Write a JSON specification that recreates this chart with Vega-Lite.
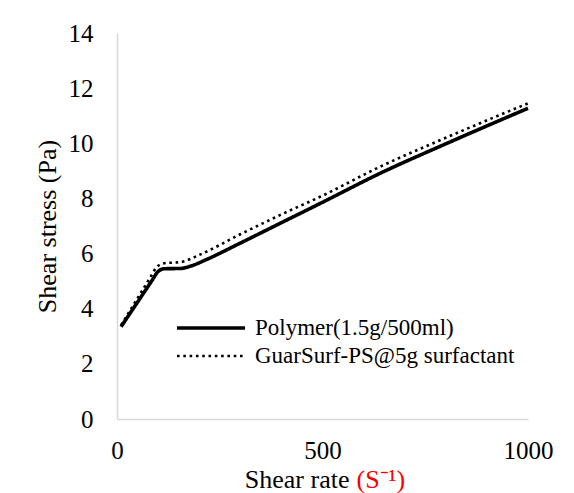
{
  "$schema": "https://vega.github.io/schema/vega-lite/v6.json",
  "width": 411,
  "height": 386,
  "autosize": {"type": "none"},
  "padding": {"left": 117, "top": 33, "right": 46, "bottom": 74},
  "background": "white",
  "config": {
    "view": {"stroke": null},
    "font": "Liberation Serif",
    "axis": {
      "grid": false,
      "ticks": false,
      "domainColor": "#d9d9d9",
      "domainWidth": 1.5,
      "labelFont": "Liberation Serif",
      "labelFontSize": 25,
      "labelColor": "#000000",
      "labelFlush": false,
      "titleFont": "Liberation Serif",
      "titleFontSize": 26,
      "titleFontWeight": "normal",
      "titleColor": "#000000"
    },
    "legend": {
      "labelFont": "Liberation Serif",
      "labelFontSize": 23,
      "labelColor": "#000000",
      "labelLimit": 0
    }
  },
  "data": {
    "values": [
      {"rate": 10, "stress": 3.35, "series": "Polymer(1.5g/500ml)"},
      {"rate": 50, "stress": 4.24, "series": "Polymer(1.5g/500ml)"},
      {"rate": 85, "stress": 5.02, "series": "Polymer(1.5g/500ml)"},
      {"rate": 100, "stress": 5.35, "series": "Polymer(1.5g/500ml)"},
      {"rate": 115, "stress": 5.45, "series": "Polymer(1.5g/500ml)"},
      {"rate": 155, "stress": 5.46, "series": "Polymer(1.5g/500ml)"},
      {"rate": 180, "stress": 5.55, "series": "Polymer(1.5g/500ml)"},
      {"rate": 220, "stress": 5.8, "series": "Polymer(1.5g/500ml)"},
      {"rate": 300, "stress": 6.38, "series": "Polymer(1.5g/500ml)"},
      {"rate": 400, "stress": 7.12, "series": "Polymer(1.5g/500ml)"},
      {"rate": 500, "stress": 7.86, "series": "Polymer(1.5g/500ml)"},
      {"rate": 640, "stress": 8.91, "series": "Polymer(1.5g/500ml)"},
      {"rate": 800, "stress": 9.98, "series": "Polymer(1.5g/500ml)"},
      {"rate": 1000, "stress": 11.27, "series": "Polymer(1.5g/500ml)"},
      {"rate": 10, "stress": 3.4, "series": "GuarSurf-PS@5g surfactant"},
      {"rate": 50, "stress": 4.38, "series": "GuarSurf-PS@5g surfactant"},
      {"rate": 80, "stress": 5.11, "series": "GuarSurf-PS@5g surfactant"},
      {"rate": 96, "stress": 5.5, "series": "GuarSurf-PS@5g surfactant"},
      {"rate": 115, "stress": 5.65, "series": "GuarSurf-PS@5g surfactant"},
      {"rate": 155, "stress": 5.69, "series": "GuarSurf-PS@5g surfactant"},
      {"rate": 200, "stress": 5.95, "series": "GuarSurf-PS@5g surfactant"},
      {"rate": 300, "stress": 6.7, "series": "GuarSurf-PS@5g surfactant"},
      {"rate": 400, "stress": 7.42, "series": "GuarSurf-PS@5g surfactant"},
      {"rate": 500, "stress": 8.1, "series": "GuarSurf-PS@5g surfactant"},
      {"rate": 640, "stress": 9.15, "series": "GuarSurf-PS@5g surfactant"},
      {"rate": 800, "stress": 10.2, "series": "GuarSurf-PS@5g surfactant"},
      {"rate": 1000, "stress": 11.45, "series": "GuarSurf-PS@5g surfactant"}
    ]
  },
  "encoding": {
    "y": {
      "field": "stress",
      "type": "quantitative",
      "scale": {"domain": [0, 14]},
      "axis": {
        "values": [0, 2, 4, 6, 8, 10, 12, 14],
        "title": "Shear stress (Pa)",
        "labelPadding": 24,
        "titlePadding": 8
      }
    },
    "strokeDash": {
      "field": "series",
      "type": "nominal",
      "sort": ["Polymer(1.5g/500ml)", "GuarSurf-PS@5g surfactant"],
      "scale": {
        "domain": ["Polymer(1.5g/500ml)", "GuarSurf-PS@5g surfactant"],
        "range": [[1, 0], [2.6, 3.7]]
      },
      "legend": {
        "title": null,
        "orient": "none",
        "legendX": 58,
        "legendY": 284,
        "padding": 0,
        "symbolType": "stroke",
        "symbolSize": 4624,
        "symbolStrokeColor": "#000000",
        "clipHeight": 22,
        "rowPadding": 5,
        "labelOffset": 8
      }
    },
    "strokeWidth": {
      "field": "series",
      "type": "nominal",
      "sort": ["Polymer(1.5g/500ml)", "GuarSurf-PS@5g surfactant"],
      "scale": {
        "domain": ["Polymer(1.5g/500ml)", "GuarSurf-PS@5g surfactant"],
        "range": [3.6, 2.6]
      },
      "legend": null
    }
  },
  "resolve": {"axis": {"x": "independent"}},
  "layer": [
    {
      "transform": [{"filter": "datum.series === 'Polymer(1.5g/500ml)'"}],
      "mark": {"type": "line", "interpolate": "monotone", "color": "#000000"},
      "encoding": {
        "x": {
          "field": "rate",
          "type": "quantitative",
          "scale": {"domain": [0, 1000]},
          "axis": {
            "orient": "bottom",
            "values": [0, 500, 1000],
            "format": "d",
            "labelPadding": 19,
            "title": "Shear rate",
            "titleAlign": "right",
            "titleAnchor": null,
            "titleX": 232,
            "titleY": 68,
            "titleBaseline": "alphabetic"
          }
        }
      }
    },
    {
      "transform": [{"filter": "datum.series === 'GuarSurf-PS@5g surfactant'"}],
      "mark": {"type": "line", "interpolate": "monotone", "color": "#000000"},
      "encoding": {
        "x": {
          "field": "rate",
          "type": "quantitative",
          "scale": {"domain": [0, 1000]},
          "axis": {
            "orient": "bottom",
            "labels": false,
            "domain": false,
            "title": "(S⁻¹)",
            "titleColor": "#ff0000",
            "titleAlign": "left",
            "titleAnchor": null,
            "titleX": 239,
            "titleY": 68,
            "titleBaseline": "alphabetic"
          }
        }
      }
    }
  ]
}
